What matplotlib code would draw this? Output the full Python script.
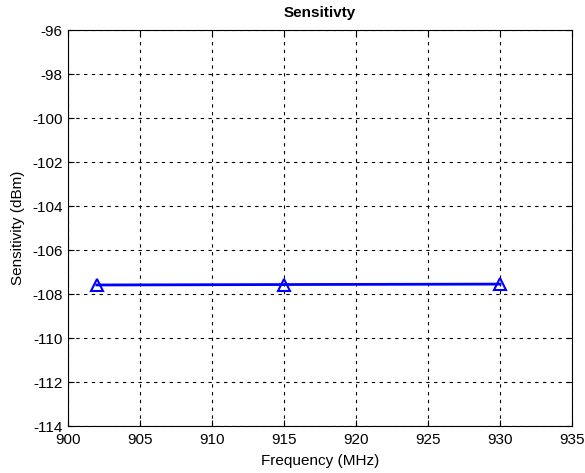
import matplotlib
matplotlib.use("Agg")
import matplotlib.pyplot as plt

plt.rcParams['font.family'] = ['Liberation Sans', 'DejaVu Sans']

freq = [902, 915, 930]
sens = [-107.59, -107.57, -107.55]
xticks = [900, 905, 910, 915, 920, 925, 930, 935]
yticks = [-114, -112, -110, -108, -106, -104, -102, -100, -98, -96]

fig = plt.figure(figsize=(5.85, 4.73), dpi=100)
ax = fig.add_axes([68/585, 1-426/473, (572-68)/585, (426-30)/473])
ax.plot(freq, sens, color='#0000ff', linewidth=2, marker='^', markersize=8,
        markerfacecolor='none', markeredgecolor='#0000ff', markeredgewidth=1.5)
ax.set_xlim(900, 935)
ax.set_ylim(-114, -96)
ax.set_xticks(xticks)
ax.set_yticks(yticks)
ax.set_xticklabels([str(v) for v in xticks], fontsize=11)
ax.set_yticklabels([str(v) for v in yticks], fontsize=11)
ax.grid(True, color='black', linestyle=(0, (3, 4)), linewidth=0.8)
ax.tick_params(axis='x', direction='in', length=4, top=True, pad=5)
ax.tick_params(axis='y', direction='in', length=4, right=True, pad=4)
for s in ax.spines.values():
    s.set_linewidth(0.8)
ax.set_xlabel('Frequency (MHz)', fontsize=11, labelpad=5)
ax.set_ylabel('Sensitivity (dBm)', fontsize=11, labelpad=5)
ax.set_title('Sensitivty', fontsize=11, fontweight='bold', pad=9)
fig.savefig('out.png', dpi=100)
